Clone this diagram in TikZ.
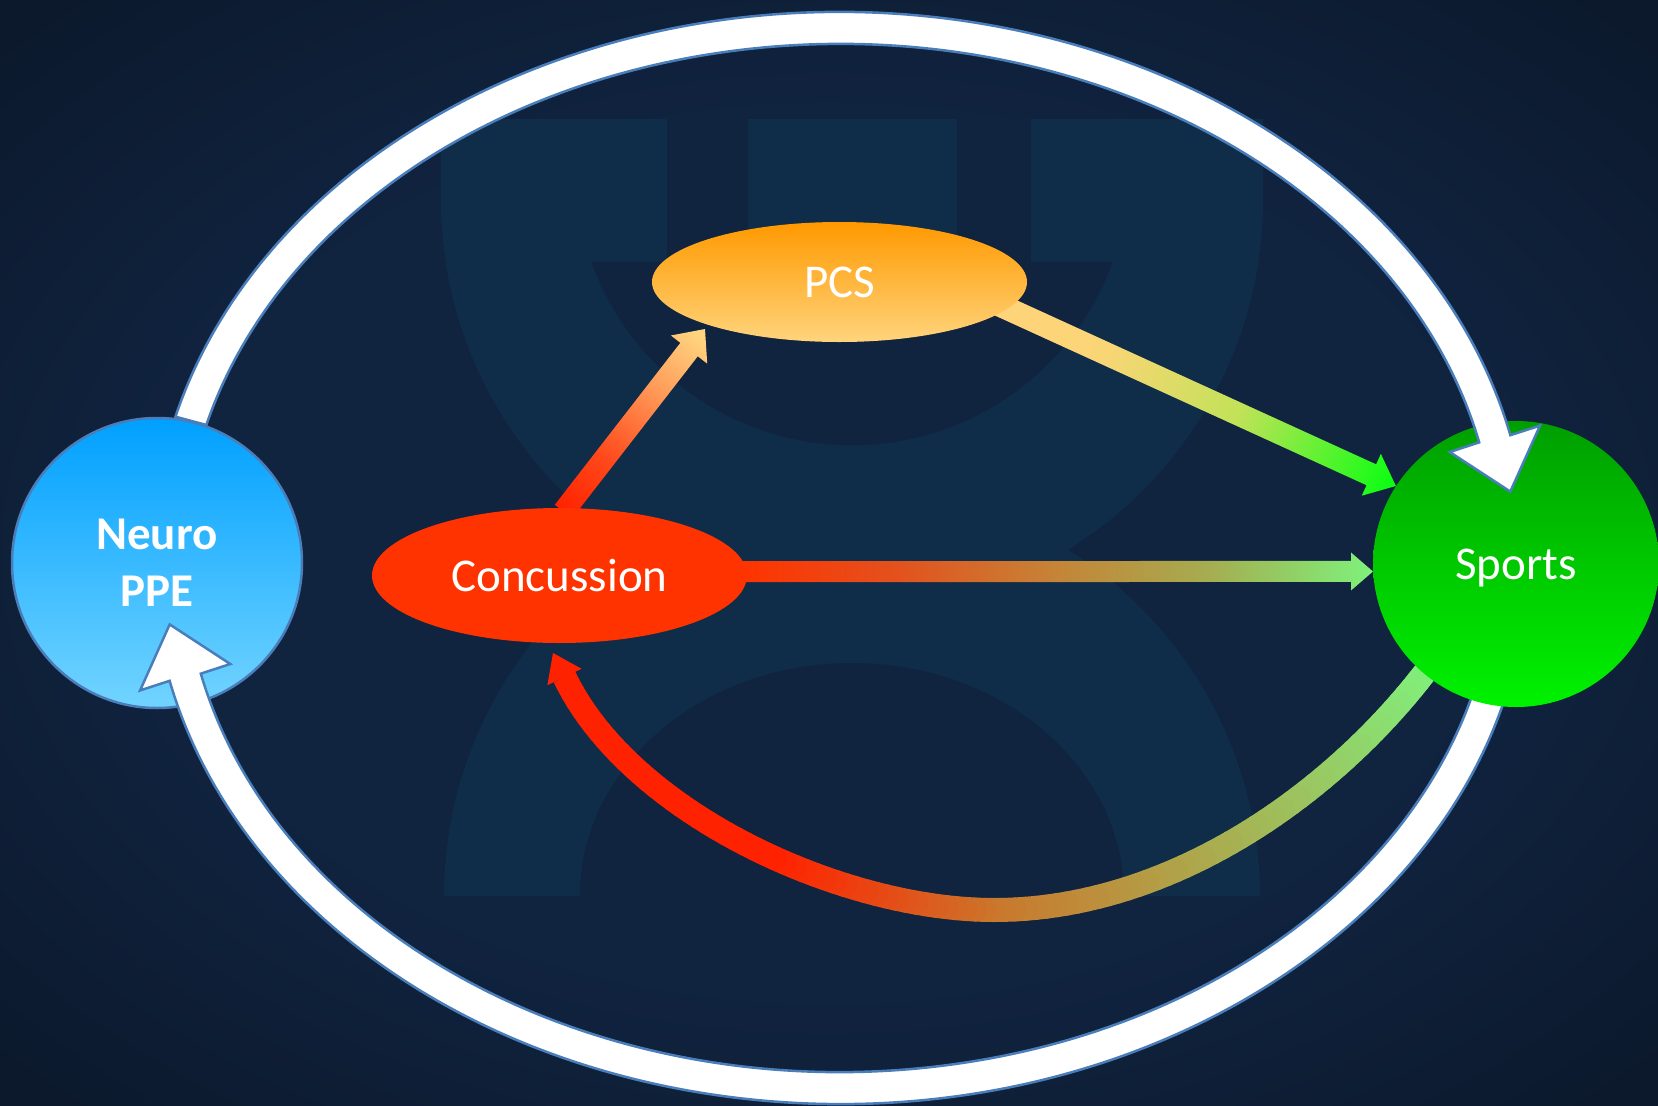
\documentclass[tikz,border=0pt]{standalone}
\usepackage{fontspec}
\setmainfont{Carlito}
\usetikzlibrary{calc,shapes.geometric}

\definecolor{bgin}{HTML}{10233F}
\definecolor{bgout}{HTML}{0B1729}
\definecolor{wmark}{HTML}{0F2C48}
\definecolor{ringedge}{HTML}{4A7EBB}
\definecolor{neurotop}{HTML}{00A0FF}
\definecolor{neurobot}{HTML}{72D4FF}
\definecolor{sporttop}{HTML}{009E00}
\definecolor{sportbot}{HTML}{00F200}
\definecolor{pcstop}{HTML}{FF9900}
\definecolor{pcsbot}{HTML}{FFD47C}
\definecolor{concred}{HTML}{FF3300}
\definecolor{arrred}{HTML}{FF2200}
\definecolor{arrorange}{HTML}{C97A2E}
\definecolor{arrgreen}{HTML}{80F07C}
% stops used by the straight gradient arrows
\definecolor{cpA}{HTML}{FF2200}\definecolor{cpB}{HTML}{FF4A1C}
\definecolor{cpC}{HTML}{FF9A58}\definecolor{cpD}{HTML}{FFD47E}
\definecolor{psA}{HTML}{FFD47A}\definecolor{psB}{HTML}{FAD576}
\definecolor{psC}{HTML}{C2E258}\definecolor{psD}{HTML}{08FF10}
\definecolor{csA}{HTML}{FF3300}\definecolor{csB}{HTML}{E4501C}
\definecolor{csC}{HTML}{C58438}\definecolor{csD}{HTML}{A5AD50}
\definecolor{csE}{HTML}{7EF27C}

\pgfdeclareradialshading{vignette}{\pgfpoint{0bp}{0bp}}{%
  color(0bp)=(bgin); color(20bp)=(bgin); color(37bp)=(bgout); color(50bp)=(bgout)}
\pgfdeclarehorizontalshading{conctopcs}{100bp}{%
  color(0bp)=(cpA); color(25bp)=(cpA); color(40bp)=(cpB); color(58bp)=(cpC);
  color(73bp)=(cpD); color(100bp)=(cpD)}
\pgfdeclarehorizontalshading{pcstosport}{100bp}{%
  color(0bp)=(psA); color(25bp)=(psA); color(38bp)=(psB); color(55bp)=(psC);
  color(75bp)=(psD); color(100bp)=(psD)}
\pgfdeclarehorizontalshading{conctosport}{100bp}{%
  color(0bp)=(csA); color(25bp)=(csA); color(37bp)=(csB); color(50bp)=(csC);
  color(62bp)=(csD); color(75bp)=(csE); color(100bp)=(csE)}

\pgfdeclarelayer{bg}
\pgfdeclarelayer{links}
\pgfdeclarelayer{lowerring}
\pgfdeclarelayer{upper}
\pgfdeclarelayer{front}
\pgfsetlayers{bg,links,main,lowerring,upper,front}

\newdimen\gaX \newdimen\gaY \newdimen\gbX \newdimen\gbY
% straight block arrow filled with a shading along its length
% #1 tail, #2 tip, #3 shaft width, #4 head width, #5 head length, #6 shading
\newcommand\gradarrow[6]{%
  \path (#1) coordinate (ga-a) (#2) coordinate (ga-b);
  \pgfextractx{\gaX}{\pgfpointanchor{ga-a}{center}}%
  \pgfextracty{\gaY}{\pgfpointanchor{ga-a}{center}}%
  \pgfextractx{\gbX}{\pgfpointanchor{ga-b}{center}}%
  \pgfextracty{\gbY}{\pgfpointanchor{ga-b}{center}}%
  \pgfmathsetmacro\gaang{atan2(\gbY-\gaY,\gbX-\gaX)}%
  \pgfmathsetmacro\galen{veclen(\gbX-\gaX,\gbY-\gaY)}%
  \pgfmathsetmacro\gashaft{\galen-#5}%
  \begin{scope}[transform canvas={shift={(\the\gaX,\the\gaY)},rotate=\gaang}]
    \shade[shading=#6]
      (0,-#3/2) -- (\gashaft,-#3/2) -- (\gashaft,-#4/2) -- (\galen,0)
      -- (\gashaft,#4/2) -- (\gashaft,#3/2) -- (0,#3/2) -- cycle;
  \end{scope}%
}

\tikzset{
  label font/.style={text=white, font=\fontsize{47}{57}\selectfont},
  hub/.style={circle, inner sep=0pt, minimum size=#1, label font},
  oval/.style={ellipse, inner sep=0pt, minimum width=375pt, minimum height=#1, label font},
  ringarrow/.style={fill=white, draw=ringedge, line width=2.5pt, line join=miter},
  curveseg/.style={line width=24pt},
}

\begin{document}
\begin{tikzpicture}[x=1pt, y=1pt]
\useasboundingbox (0,-1106) rectangle (1658,0);

% ---------- backdrop and faint emblem ----------
\begin{pgfonlayer}{bg}
  \shade[shading=vignette] (0,-1106) rectangle (1658,0);
  \fill[wmark] (441,-119) rectangle (1263,-200);
  \fill[wmark] (441,-200) arc[start angle=180, end angle=360, radius=411] -- cycle;
  \fill[wmark] (444,-896) arc[start angle=180, end angle=0, radius=408] -- cycle;
  \fill[bgin] (667,-119) rectangle (748,-262);
  \fill[bgin] (957,-119) rectangle (1031,-262);
  \fill[bgin] (591.4,-262) arc[start angle=199.8, end angle=340.2, radius=277] -- cycle;
  \fill[bgin] (580,-896) arc[start angle=180, end angle=0, x radius=272, y radius=233] -- cycle;
\end{pgfonlayer}

% ---------- nodes ----------
\node[hub=290pt, top color=neurotop, bottom color=neurobot, draw=ringedge,
      line width=2.5pt, align=center,
      font=\bfseries\fontsize{47}{57}\selectfont] (neuro) at (157,-563) {Neuro\\PPE};
\node[oval=135pt, fill=concred] (conc) at (559.5,-575.5) {Concussion};
\node[oval=120pt, top color=pcstop, bottom color=pcsbot] (pcs) at (839.5,-282) {PCS};
\begin{pgfonlayer}{upper}
  \node[hub=286pt, top color=sporttop, bottom color=sportbot, text depth=0pt]
    (sports) at (1516,-564) {Sports};
\end{pgfonlayer}

\coordinate (ring) at (840,-558);

% ---------- coloured links ----------
\begin{pgfonlayer}{links}
  \gradarrow{$(conc.center)+(4,64)$}{$(pcs.center)+(-134.5,-47)$}{22}{46}{26}{conctopcs}
  \gradarrow{$(pcs.center)+(160,-23)$}{sports.147}{23}{46}{27}{pcstosport}
  \gradarrow{$(conc.center)+(180,4)$}{sports.183}{21}{38}{22}{conctosport}

  % curved link from Sports back to Concussion
  \coordinate (cs0) at (sports.230);
  \coordinate (cs1) at (1330,-795);
  \coordinate (cs2) at (1170,-910);
  \coordinate (cs3) at (994,-910);
  \coordinate (cs4) at (840,-910);
  \coordinate (cs5) at (629,-812);
  \coordinate (cs6) at ($(conc.center)+(5,-101.5)$);
  \foreach \i in {1,...,50}{
    \pgfmathsetmacro\ta{(\i-1)/50}
    \pgfmathsetmacro\tb{\i/50}
    \pgfmathsetmacro\mix{100*(\i-0.5)/50}
    \colorlet{segc}{arrorange!\mix!arrgreen}
    \path (cs0) .. controls (cs1) and (cs2) .. (cs3)
      coordinate[pos=\ta] (qa) coordinate[pos=\tb] (qb);
    \draw[curveseg, segc, line cap=round] (qa) -- (qb);
  }
  \foreach \i in {1,...,50}{
    \pgfmathsetmacro\ta{(\i-1)/50}
    \pgfmathsetmacro\tb{\i/50}
    \pgfmathsetmacro\mix{min(100,100*(\i-0.5)/50/0.45)}
    \colorlet{segc}{arrred!\mix!arrorange}
    \path (cs3) .. controls (cs4) and (cs5) .. (cs6)
      coordinate[pos=\ta] (qa) coordinate[pos=\tb] (qb);
    \ifnum\i=50
      \draw[curveseg, segc, line cap=butt] (qa) -- (qb);
    \else
      \draw[curveseg, segc, line cap=round] (qa) -- (qb);
    \fi
  }
  \fill[arrred] ($(conc.center)+(22.1,-93.3)$) -- ($(conc.center)+(-6.5,-77.5)$)
    -- ($(conc.center)+(-12.1,-109.7)$) -- cycle;
\end{pgfonlayer}

% ---------- white cycle: Sports back to Neuro PPE along the bottom ----------
\begin{pgfonlayer}{lowerring}
  \draw[ringarrow]
    ($(ring)+(-10:688 and 546)$)
      arc[start angle=-10, end angle=-167, x radius=688, y radius=546]
    -- (140.1,-690.4) -- (169.7,-624.4) -- (230.3,-664)
    -- ($(ring)+(-167:656 and 514)$)
      arc[start angle=-167, end angle=-10, x radius=656, y radius=514]
    -- cycle;
\end{pgfonlayer}

% ---------- white cycle: Neuro PPE over the top to Sports ----------
\begin{pgfonlayer}{front}
  \draw[ringarrow]
    ($(ring)+(165:688 and 546)$)
      arc[start angle=165, end angle=13, x radius=688, y radius=546]
    -- (1540,-425.6) -- (1510.3,-491.6) -- (1449.7,-452)
    -- ($(ring)+(13:656 and 514)$)
      arc[start angle=13, end angle=165, x radius=656, y radius=514]
    -- cycle;
\end{pgfonlayer}
\end{tikzpicture}
\end{document}
